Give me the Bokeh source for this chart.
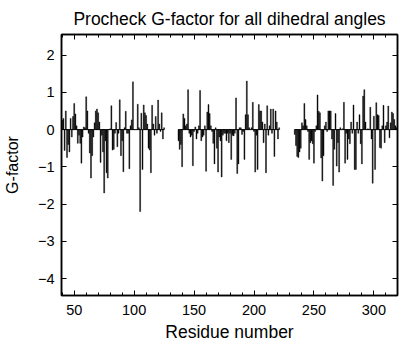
from bokeh.plotting import figure
from bokeh.models import LinearAxis, FixedTicker, Range1d, ColumnDataSource
from bokeh.embed import file_html
from bokeh.resources import INLINE

# ---------------- data ----------------
block1_start = 40
block1_values = [
    0.25, 0.30, -0.56, 0.50, -0.75, -0.40, -0.60, 0.30, -0.20, 0.35,
    0.70, 0.42, 0.10, -0.37, -0.15, -0.37, -0.90, -0.20, 0.07, 0.05,
    0.88, 0.50, -0.10, -0.63, -1.30, -0.70, -0.20, 0.18, 0.50, 0.55,
    0.45, 0.20, -0.88, -0.15, -0.60, -1.70, -0.30, -1.16, -1.30, 0.00,
    0.02, 0.64, -0.55, -0.53, -0.10, 0.19, -0.46, -0.10, 0.80, -0.70,
    -0.30, -1.13, 0.05, 0.49, -0.10, -0.10, -1.05, 0.10, 0.26, 1.28,
    0.00, 0.00, 0.00, 0.68, 0.05, -2.20, 0.44, -1.07, 0.66, 0.45,
    0.38, 0.15, -0.50, -0.55, -1.16, 0.65, 0.15, -0.15, 0.35, -0.10,
    0.79, 0.15, -0.05, 0.45, -0.25, 0.05,
]
block2_start = 137
block2_values = [
    -0.30, -0.53, -0.40, -1.00, 0.42, 0.30, 0.10, 0.15, 1.07, -0.10,
    -0.20, -0.15, -0.97, -0.05, 0.07, -0.25, -0.10, 0.10, 1.05, -0.30,
    -0.20, -0.15, 0.10, -1.12, 0.47, 0.67, 0.43, 0.10, -0.05, -0.37,
    -0.92, 0.05, -0.50, -1.14, -0.20, -0.30, -1.27, -0.15, -0.10, -0.10,
    -0.30, -0.10, -0.35, -0.10, -0.80, -0.15, -0.17, -0.10, 0.85, -1.18,
    -0.92, 0.05, 0.05, -0.13, -0.05, -0.80, 0.40, 1.30, 0.40, 0.05,
    0.00, 0.05, 0.73, -0.05, -1.14, -0.15, -1.07, 0.67, 0.50, 0.50,
    0.20, -0.35, 0.15, -1.16, 0.64, -0.15, 0.10, 0.55, -0.10, 0.55,
    -0.72, 0.50, 0.20, -0.25, 0.05,
]
block3_start = 234
block3_values = [
    -0.13, -0.43, -0.72, -0.75, -0.60, -0.50, 0.18, 0.10, 0.70, 0.27,
    0.10, -0.05, -0.80, -0.35, -0.30, -0.38, -0.90, -0.05, 0.10, 0.93,
    0.49, 0.45, -0.76, -1.38, -0.70, 0.10, 0.20, -0.05, 0.50, 0.50,
    0.50, -0.25, -1.50, -0.53, 0.43, -0.98, -0.35, -1.14, 0.05, 0.00,
    0.02, 0.73, -0.90, -0.10, -0.80, -0.25, -0.38, 0.20, -0.10, 0.66,
    -1.07, -1.07, 0.20, -0.10, 0.40, -0.38, -0.92, 0.90, 1.07, 0.20,
    0.00, 0.02, 0.00, 0.60, -0.25, -1.44, 0.36, -1.07, 0.72, 0.40,
    0.38, -0.48, -0.50, 0.10, 0.65, -0.35, 0.10, 0.20, 0.63, -0.22,
    0.18, 0.47, 0.43, 0.27, 0.10, 0.05,
]

x_ticks = [50, 100, 150, 200, 250, 300]
x_minor_ticks = list(range(40, 320, 10))
y_ticks = [-4, -3, -2, -1, 0, 1, 2]

title_text = "Procheck G-factor for all dihedral angles"
x_label = "Residue number"
y_label = "G-factor"

FONT = "Liberation Sans"

p = figure(width=400, height=344, output_backend="svg", toolbar_location=None,
           x_range=Range1d(39.4, 319.7), y_range=Range1d(-4.45, 2.55),
           min_border_left=54, min_border_right=3, min_border_top=33,
           min_border_bottom=49, x_axis_location=None, y_axis_location=None)

p.title.text = title_text
p.title.align = "center"
p.title.text_font = FONT
p.title.text_font_size = "17.5px"
p.title.text_font_style = "normal"
p.title.text_color = "black"
p.title.offset = 0
p.title.standoff = 12

p.grid.visible = False
p.outline_line_color = "black"
p.outline_line_width = 1.5
p.background_fill_color = "white"
p.border_fill_color = "white"

xt = FixedTicker(ticks=x_ticks, minor_ticks=x_minor_ticks)
yt = FixedTicker(ticks=y_ticks)


def style_axis(ax, labels=True):
    ax.axis_line_color = "black"
    ax.axis_line_width = 1.5
    ax.major_tick_in = 5
    ax.major_tick_out = 0
    ax.minor_tick_in = 3
    ax.minor_tick_out = 0
    ax.major_tick_line_color = "black"
    ax.minor_tick_line_color = "black"
    ax.major_label_text_font = FONT
    ax.major_label_text_font_size = "14.5px"
    ax.major_label_text_color = "black" if labels else None
    ax.axis_label_text_font = FONT
    ax.axis_label_text_font_size = "17.5px"
    ax.axis_label_text_font_style = "normal"
    ax.axis_label_text_color = "black"


xb = LinearAxis(ticker=xt, axis_label=x_label)
style_axis(xb)
xb.major_label_standoff = 9
xb.axis_label_standoff = 4
p.add_layout(xb, "below")

xa = LinearAxis(ticker=xt)
style_axis(xa, labels=False)
xa.major_label_text_font_size = "0px"
xa.major_label_standoff = 0
p.add_layout(xa, "above")

yl = LinearAxis(ticker=yt, axis_label=y_label)
style_axis(yl)
yl.minor_tick_line_color = None
yl.major_label_standoff = 7
yl.axis_label_standoff = 14
yl.axis_label_text_font_size = "16px"
p.add_layout(yl, "left")

yr = LinearAxis(ticker=yt)
style_axis(yr, labels=False)
yr.minor_tick_line_color = None
yr.major_label_text_font_size = "0px"
yr.major_label_standoff = 0
p.add_layout(yr, "right")

for start, vals in [(block1_start, block1_values),
                    (block2_start, block2_values),
                    (block3_start, block3_values)]:
    xs = [start + i for i in range(len(vals))]
    src = ColumnDataSource(dict(x=xs, top=vals, zero=[0.0] * len(vals)))
    p.vbar(x="x", top="top", bottom="zero", width=0.8, source=src,
           fill_color="black", line_color="black", line_width=0.4)
    p.line(x="x", y="zero", source=src, line_color="black", line_width=1)

open("out.html", "w").write(file_html(p, INLINE))
